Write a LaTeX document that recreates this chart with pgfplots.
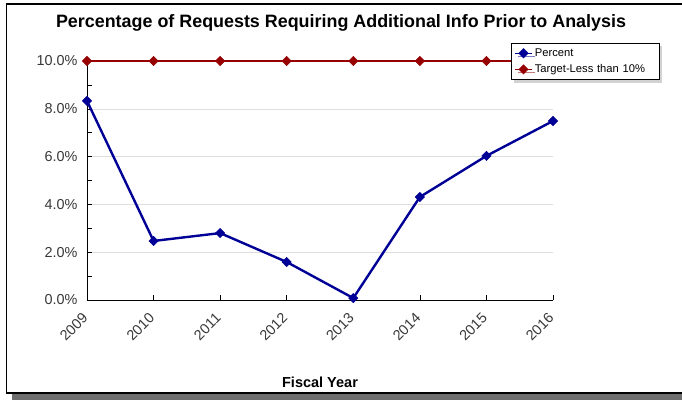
\documentclass[border=0pt]{standalone}
\usepackage{pgfplots}
\pgfplotsset{compat=1.18}
\usepackage{fontspec}
\setmainfont{Liberation Sans}
\usetikzlibrary{shadows}
\definecolor{pblue}{RGB}{0,0,150}
\definecolor{pred}{RGB}{150,0,0}
\definecolor{gridgray}{RGB}{222,222,222}
\definecolor{shadowgray}{RGB}{110,110,110}
\begin{document}
\begin{tikzpicture}[x=1pt,y=1pt]
\useasboundingbox (0,0) rectangle (682,400);
\fill[shadowgray] (12,0) rectangle (682,6);
\draw[line width=1.2pt] (686,396) -- (6.5,396) -- (6.5,7) -- (686,7);
\node[font=\bfseries\fontsize{17.9}{20}\selectfont] at (341,377) {Percentage of Requests Requiring Additional Info Prior to Analysis};
\begin{axis}[
  at={(87pt,100pt)}, anchor=origin,
  scale only axis, width=466pt, height=239pt,
  xmin=0, xmax=7, ymin=0, ymax=10,
  axis lines*=left,
  axis line style={line width=0.8pt},
  xtick={0,...,7},
  xticklabels={2009,2010,2011,2012,2013,2014,2015,2016},
  ytick={0,2,...,10},
  minor ytick={1,3,5,7,9},
  yticklabel={\pgfmathprintnumber[fixed,fixed zerofill,precision=1]{\tick}\%},
  /pgf/number format/assume math mode=true,
  ymajorgrids, major grid style={gridgray, line width=0.6pt},
  tick align=inside,
  major tick length=5pt, minor tick length=5pt,
  tick style={black, line width=0.6pt},
  every tick label/.append style={text=black!78},
  yticklabel style={font=\Large, xshift=-6pt},
  xticklabel style={font=\Large, xshift=-5.5pt, yshift=-7pt, rotate=45, anchor=north east},
  xlabel={Fiscal Year},
  xlabel style={font=\bfseries\fontsize{14.5}{16}\selectfont, at={(0.5,0)}, anchor=center, yshift=-82pt},
  clip=false,
  legend style={at={(0.91,1.075)}, anchor=north west, draw=black, line width=0.6pt,
    fill=white, drop shadow={shadow xshift=3pt, shadow yshift=-3pt, fill=gray!70},
    row sep=2pt, inner sep=3pt, text width=106pt, text=black, nodes={scale=1.12},
    /tikz/every even column/.append style={column sep=8pt}},
  legend cell align=left,
]
\addlegendimage{pblue, line width=1.2pt, mark=square*, mark options={rotate=45, solid}, mark size=3pt}
\addlegendimage{pred, line width=1.2pt, mark=square*, mark options={rotate=45, solid}, mark size=3pt}
\legend{Percent,Target-Less than 10\%}
\addplot[forget plot, pblue, line width=2.4pt, mark=square*, mark options={rotate=45, solid, line width=0.5pt}, mark size=3.3pt] coordinates {
(0,8.33) (1,2.47) (2,2.8) (3,1.59) (4,0.08) (5,4.31) (6,6.03) (7,7.49)};
\addplot[forget plot, pred, line width=2.4pt, mark=square*, mark options={rotate=45, solid, line width=0.5pt}, mark size=3.3pt] coordinates {
(0,10) (1,10) (2,10) (3,10) (4,10) (5,10) (6,10) (7,10)};
\end{axis}
\end{tikzpicture}
\end{document}
